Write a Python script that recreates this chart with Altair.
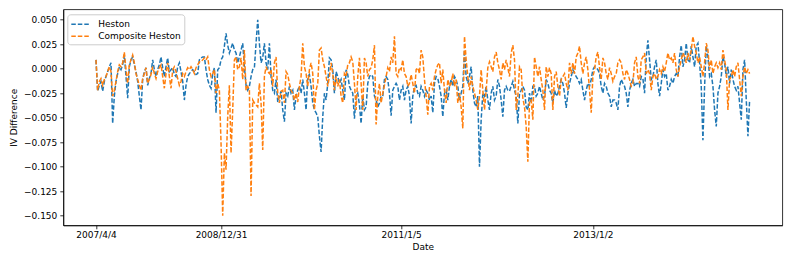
import altair as alt
import pandas as pd

# ---- axis tick labels (positions are observation indices) ----
tick_idx = [0, 75, 183, 298]
tick_labels = ["2007/4/4", "2008/12/31", "2011/1/5", "2013/1/2"]
y_ticks = [0.05, 0.025, 0.0, -0.025, -0.05, -0.075, -0.1, -0.125, -0.15]
series_names = ["Heston", "Composite Heston"]
series_colors = ["#1f77b4", "#ff7f0e"]

# ---- Heston IV difference (in 6 stretches) ----
heston_1 = [0.009, -0.023, -0.017, -0.013, -0.023, -0.013, -0.008, -0.003, 0.002, 0.006,
            -0.056, -0.028, -0.013, -0.005, 0.002, -0.001, 0.004, 0.014, -0.008, -0.030,
            0.002, 0.009, 0.012, 0.004, -0.003, -0.013, -0.028, -0.042, -0.011, -0.003,
            0.001, -0.017, -0.010, -0.005, 0.009, -0.001, -0.008, -0.001, 0.004, 0.012,
            0.001, -0.008, 0.002, 0.011, -0.003, -0.001, 0.001, -0.006, -0.008, 0.002,
            0.006, -0.003, -0.013, -0.032, -0.017, -0.008, -0.005, -0.003, -0.001, -0.003,
            -0.006, -0.005, 0.009]
heston_2 = [0.011, 0.012, 0.012, -0.001, -0.011, -0.017, -0.020, -0.005, 0.001, -0.045,
            -0.001, 0.001, 0.009, 0.012, 0.023, 0.036, 0.024, 0.016, 0.021, 0.026,
            0.019, 0.016, 0.006, 0.012, 0.019, 0.026, 0.002, -0.017, -0.022, -0.018,
            -0.008, -0.001, 0.001, 0.026, 0.050, 0.026, 0.006, 0.011, 0.026, 0.006,
            -0.001, 0.026, -0.008, -0.022, -0.025, -0.011, -0.034, -0.028, -0.023, -0.042,
            -0.054, -0.025, -0.028, -0.018, -0.025, -0.022, -0.042, -0.028, -0.022, -0.018,
            -0.025, -0.011, -0.025, -0.042, -0.008, -0.006]
heston_3 = [-0.018, -0.035, -0.042, -0.045, -0.049, -0.069, -0.085, -0.049, -0.025, -0.032,
            -0.015, 0.011, 0.009, -0.001, -0.025, -0.003, -0.008, -0.015, -0.011, -0.022,
            -0.032, -0.001, -0.006, -0.018, -0.022, -0.025, -0.051, -0.028, -0.025, -0.037,
            -0.056, -0.028, -0.042, -0.039, -0.015, -0.008, -0.006, -0.008, -0.028, -0.032,
            -0.039, -0.035, -0.028, -0.028, -0.011, -0.008, -0.011, -0.025, -0.048, -0.022,
            -0.018, -0.015, -0.018, -0.032, -0.022, -0.018, -0.032, -0.022, -0.018, -0.028,
            -0.056, -0.028, -0.018, -0.017, -0.025, -0.028]
heston_4 = [-0.018, -0.022, -0.028, -0.022, -0.025, -0.032, -0.028, -0.045, -0.015, -0.008,
            -0.010, -0.018, -0.028, -0.049, -0.025, -0.022, -0.032, -0.018, -0.011, -0.018,
            -0.008, -0.011, -0.018, -0.032, -0.025, -0.018, 0.019, -0.008, -0.015, -0.008,
            0.002, -0.022, -0.035, -0.039, -0.028, -0.100, -0.052, -0.025, -0.028, -0.018,
            -0.032, -0.042, -0.025, -0.018, -0.032, -0.028, -0.011, -0.018, -0.032, -0.049,
            -0.022, -0.018, -0.022, -0.023, -0.018, -0.013, -0.022, -0.028, -0.056, -0.025,
            -0.022, -0.018, -0.022, -0.039, -0.042, -0.025]
heston_5 = [-0.035, -0.018, -0.018, -0.028, -0.025, -0.018, -0.025, -0.032, -0.028, -0.011,
            -0.015, -0.022, -0.025, -0.035, -0.022, -0.028, -0.025, -0.018, -0.011, -0.015,
            -0.025, -0.040, -0.025, -0.015, -0.008, -0.001, -0.005, -0.008, -0.011, -0.015,
            -0.011, -0.022, -0.032, -0.022, -0.015, -0.018, -0.011, -0.001, 0.002, 0.001,
            -0.001, -0.005, -0.018, -0.025, -0.015, -0.018, -0.025, -0.028, -0.039, -0.032,
            -0.032, -0.035, -0.042, -0.018, -0.011, -0.015, -0.018, -0.025, -0.039, -0.022,
            -0.015, -0.011, -0.018, -0.015, -0.015, -0.018]
heston_6 = [-0.008, -0.010, -0.025, 0.012, 0.029, 0.009, -0.011, -0.008, 0.002, 0.009,
            -0.015, -0.028, -0.015, -0.001, -0.008, -0.005, -0.022, -0.018, -0.011, -0.015,
            -0.008, -0.005, -0.008, 0.012, 0.024, 0.002, 0.009, 0.026, 0.009, 0.006,
            0.023, 0.012, 0.002, 0.023, 0.026, 0.006, -0.018, -0.073, -0.018, 0.023,
            0.012, -0.008, -0.005, -0.018, -0.042, -0.059, -0.025, -0.018, -0.008, 0.012,
            0.006, -0.008, 0.002, -0.015, -0.001, -0.011, -0.018, -0.022, -0.018, -0.035,
            -0.052, -0.001, 0.009, -0.032, -0.069, -0.032]

# ---- Composite Heston IV difference ----
composite_1 = [0.009, -0.022, -0.013, -0.010, -0.017, -0.011, -0.008, -0.003, 0.002, -0.003,
               -0.028, -0.022, -0.013, -0.003, 0.004, 0.002, 0.006, 0.017, -0.001, -0.015,
               0.004, 0.009, 0.014, 0.006, -0.005, -0.011, -0.017, -0.022, -0.010, -0.005,
               0.001, -0.015, -0.011, -0.006, 0.002, -0.005, -0.010, -0.003, 0.001, 0.004,
               -0.008, -0.020, -0.005, 0.006, -0.008, -0.020, -0.001, 0.002, -0.003, -0.010,
               -0.017, -0.013, -0.005, -0.008, -0.003, 0.001, -0.001, 0.002, -0.001, -0.005,
               0.001, 0.004, 0.007]
composite_2 = [0.007, 0.009, 0.011, 0.009, 0.012, -0.001, -0.008, -0.005, -0.001, -0.025,
               -0.015, -0.022, -0.076, -0.150, -0.086, -0.103, -0.049, -0.017, -0.086, -0.042,
               0.009, 0.012, -0.001, 0.002, 0.011, -0.011, 0.019, -0.022, -0.018, -0.022,
               -0.130, -0.032, -0.035, -0.037, -0.039, -0.015, -0.035, -0.083, -0.008, 0.002,
               -0.003, -0.005, -0.001, -0.018, 0.006, 0.012, -0.025, -0.035, -0.023, -0.022,
               -0.035, -0.003, -0.006, -0.015, -0.022, -0.025, -0.032, -0.025, -0.034, -0.018,
               -0.008, 0.026, 0.002, -0.005, -0.018, -0.001]
composite_3 = [0.006, -0.005, -0.042, -0.022, -0.015, 0.019, 0.021, 0.009, 0.002, -0.008,
               -0.018, -0.008, 0.006, -0.005, -0.022, -0.008, -0.018, -0.011, -0.028, -0.035,
               -0.005, -0.008, 0.004, 0.006, 0.012, 0.007, -0.015, -0.042, -0.008, 0.011,
               -0.015, -0.042, 0.011, 0.006, -0.008, -0.001, 0.001, 0.009, 0.024, -0.057,
               -0.028, -0.015, -0.035, -0.025, -0.017, -0.008, 0.001, -0.003, 0.012, 0.006,
               0.033, -0.005, -0.008, 0.001, -0.001, 0.009, -0.005, -0.008, -0.018, -0.015,
               -0.006, -0.015, -0.025, -0.001, 0.001, -0.005]
composite_4 = [0.019, 0.012, -0.011, -0.028, -0.047, -0.018, -0.015, -0.022, -0.008, -0.001,
               0.004, 0.006, -0.015, -0.001, -0.022, -0.035, -0.011, -0.018, -0.015, -0.005,
               -0.018, -0.011, -0.035, -0.025, -0.039, -0.061, 0.033, 0.009, -0.008, -0.022,
               -0.008, -0.018, -0.025, -0.032, -0.042, -0.028, -0.001, -0.022, -0.042, -0.022,
               0.001, 0.007, 0.002, -0.003, 0.012, 0.017, 0.006, -0.001, -0.011, 0.006,
               -0.001, 0.009, 0.001, -0.008, 0.016, 0.024, 0.009, -0.042, -0.028, 0.002,
               -0.001, -0.030, -0.039, -0.059, -0.095, -0.032]
composite_5 = [-0.032, -0.052, 0.012, 0.002, -0.008, 0.002, -0.011, -0.022, -0.042, 0.002,
               -0.008, 0.001, -0.005, -0.042, -0.008, -0.003, -0.018, -0.028, -0.011, -0.008,
               -0.005, -0.015, -0.022, 0.006, -0.005, 0.006, -0.005, 0.012, 0.016, 0.023,
               0.006, -0.005, 0.006, 0.012, -0.001, -0.022, -0.045, -0.008, -0.001, 0.012,
               0.017, 0.001, -0.011, 0.011, 0.006, -0.005, -0.011, 0.001, -0.005, -0.013,
               -0.008, -0.005, 0.006, 0.009, 0.006, -0.005, -0.011, -0.001, -0.005, -0.011,
               -0.018, -0.015, 0.006, 0.012, -0.008, -0.015]
composite_6 = [0.009, 0.012, 0.016, -0.005, -0.001, -0.005, -0.022, -0.008, -0.005, -0.011,
               -0.008, -0.001, -0.005, 0.002, -0.003, 0.006, 0.016, 0.009, 0.011, 0.006,
               0.016, -0.001, -0.008, 0.002, 0.009, 0.016, 0.012, 0.006, 0.016, 0.009,
               0.019, 0.033, 0.023, 0.016, 0.006, 0.012, 0.002, -0.008, 0.006, 0.026,
               0.019, -0.001, 0.009, -0.005, 0.002, 0.006, 0.001, 0.006, -0.001, 0.019,
               0.009, -0.001, -0.042, -0.011, -0.008, -0.001, -0.008, 0.002, 0.006, -0.011,
               -0.028, -0.008, 0.002, -0.005, -0.001, -0.005]

heston = heston_1 + heston_2 + heston_3 + heston_4 + heston_5 + heston_6
composite = composite_1 + composite_2 + composite_3 + composite_4 + composite_5 + composite_6

rows = []
for name, vals in zip(series_names, [heston, composite]):
    for i, v in enumerate(vals):
        rows.append({"idx": i, "value": v, "series": name})
df = pd.DataFrame(rows)

n_max = max(len(heston), len(composite)) - 1
margin = 0.05 * n_max

label_expr = "''"
for t, lab in reversed(list(zip(tick_idx, tick_labels))):
    label_expr = f"datum.value == {t} ? '{lab}' : ({label_expr})"

FONT = "DejaVu Sans"

x_enc = alt.X(
    "idx:Q",
    scale=alt.Scale(domain=[-margin, n_max + margin], nice=False, zero=False),
    axis=alt.Axis(values=tick_idx, labelExpr=label_expr, title="Date",
                  labelPadding=2, titlePadding=3),
)
y_enc = alt.Y(
    "value:Q",
    scale=alt.Scale(domain=[-0.1598, 0.0606], nice=False, zero=False),
    axis=alt.Axis(values=y_ticks, format=".3f", title="IV Difference",
                  labelPadding=3, titlePadding=5),
)
color_enc = alt.Color(
    "series:N",
    scale=alt.Scale(domain=series_names, range=series_colors),
    legend=alt.Legend(
        title=None, orient="none", legendX=4, legendY=5,
        symbolType="M-1,0H2.2", symbolSize=144, symbolStrokeWidth=1.5,
        symbolDash=[4.5, 2], labelFont=FONT, labelFontSize=9, labelColor="black",
        labelOffset=14, fillColor="white", strokeColor="#cccccc", cornerRadius=3,
        padding=3, rowPadding=0,
    ),
)

base = alt.Chart(df).mark_line(strokeDash=[4.5, 2], strokeWidth=1.5, clip=True)
layer_h = base.transform_filter(alt.datum.series == "Heston").encode(x=x_enc, y=y_enc, color=color_enc)
layer_c = base.transform_filter(alt.datum.series == "Composite Heston").encode(x=x_enc, y=y_enc, color=color_enc)

chart = (
    alt.layer(layer_h, layer_c)
    .properties(
        width=719, height=216,
        autosize=alt.AutoSizeParams(type="none"),
        padding={"left": 55.3, "top": 1.3, "right": 2, "bottom": 30},
        background="white",
    )
    .configure_view(stroke="black", strokeWidth=0.8)
    .configure_axis(
        labelFont=FONT, labelFontSize=9, labelColor="black",
        titleFont=FONT, titleFontSize=9, titleFontWeight="normal", titleColor="black",
        tickColor="black", tickSize=3.5, tickWidth=0.8,
        domainColor="black", domainWidth=0.8, grid=False,
    )
)

chart.save("out.html", embed_options={"renderer": "svg", "actions": False})
